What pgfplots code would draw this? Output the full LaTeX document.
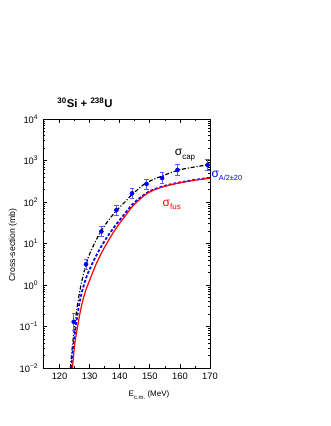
\documentclass[border=0pt]{standalone}
\usepackage{pgfplots}
\usepackage{pgfplotstable}
\pgfplotsset{compat=1.18}
\usepackage{fontspec}
\setmainfont{Liberation Sans}

% measured points with error bars
\pgfplotstableread{
E     sig   ep    em
124.7 0.13  0.076 0.048
128.8 3.16  1.0   0.76
133.9 19.5  6.2   4.7
138.9 64    20    15
144.1 162   57    42
148.9 272   87    66
154.1 378   132   98
159.2 590   206   153
169.2 780   272   202
}\expdata

% capture
\pgfplotstableread{
E sig
123.6 0.01
124.2 0.03
125 0.1
126 0.35
127 0.9
128 1.9
129 3.5
130 5.6
132 11.5
134 21
136 34
138 52
140 75
142 105
144 150
146 200
148 265
150 320
152 370
154 420
157 510
160 600
163 660
166 720
170 800
}\capdata

% A/2 +- 20
\pgfplotstableread{
E sig
123.9 0.01
124.5 0.03
125 0.06
126 0.2
127 0.5
128 0.95
129 1.6
130 2.4
132 4.8
134 8.8
136 15
138 24
140 37
142 56
144 84
146 115
148 148
150 183
153 222
156 257
160 297
165 342
170 385
}\adata

% fusion
\pgfplotstableread{
E sig
124.3 0.01
125 0.035
126 0.1
127 0.25
128 0.5
129 0.85
130 1.3
132 3
134 6
136 11
138 19
140 31
142 48
144 75
146 105
148 140
150 175
153 215
156 250
160 290
165 335
170 375
}\fusdata

\definecolor{ebar}{RGB}{90,90,255}

\begin{document}
\begin{tikzpicture}[font=\fontsize{6.5}{8}\selectfont]
\useasboundingbox (0,0) rectangle (247.5pt,319.5pt);
\begin{axis}[
  at={(32.25pt,43.5pt)}, anchor=south west,
  scale only axis, width=125.25pt, height=186.75pt,
  xmin=114.5, xmax=170,
  ymode=log, ymin=0.01, ymax=10000,
  xtick={120,130,...,170}, minor x tick num=1,
  ytick={0.01,0.1,1,10,100,1000,10000},
  yticklabels={10\textsuperscript{−2},10\textsuperscript{−1},10\textsuperscript{0},10\textsuperscript{1},10\textsuperscript{2},10\textsuperscript{3},10\textsuperscript{4}},
  minor ytick={0.02,0.03,0.04,0.05,0.06,0.07,0.08,0.09,0.2,0.3,0.4,0.5,0.6,0.7,0.8,0.9,2,3,4,5,6,7,8,9,20,30,40,50,60,70,80,90,200,300,400,500,600,700,800,900,2000,3000,4000,5000,6000,7000,8000,9000},
  /pgf/number format/assume math mode=true,
  ticklabel style={font=\fontsize{7}{8}\selectfont},
  major tick length=3pt, minor tick length=1.6pt,
  tick style={black, line width=0.5pt},
  axis line style={line width=0.6pt},
  clip mode=individual,
]
\addplot[black, line width=0.9pt, dash pattern=on 3pt off 1.4pt on 0.8pt off 1.4pt, smooth] table[x=E,y=sig] {\capdata};
\addplot[blue, line width=1.3pt, dash pattern=on 2.2pt off 1.4pt, smooth] table[x=E,y=sig] {\adata};
\addplot[red, line width=0.9pt, smooth] table[x=E,y=sig] {\fusdata};
\addplot[only marks, mark=*, mark size=1.5pt, color=blue,
  error bars/.cd, y dir=both, y explicit,
  error bar style={ebar, line width=0.5pt},
  error mark options={ebar, line width=0.5pt, mark size=1.6pt, rotate=90}]
  table[x=E, y=sig, y error plus=ep, y error minus=em] {\expdata};
\node[black] at (axis cs:161.7,1350) {{\fontsize{9}{10}\selectfont σ}\raisebox{-0.7ex}{\fontsize{6}{7}\selectfont cap}};
\node[red] at (axis cs:157.3,85) {{\fontsize{9}{10}\selectfont σ}\raisebox{-0.7ex}{\fontsize{6}{7}\selectfont fus}};
\node[blue, anchor=west, inner sep=0.5pt] at (axis cs:170.2,425) {{\fontsize{9}{10}\selectfont σ}\raisebox{-0.7ex}{\fontsize{5.5}{7}\selectfont A/2±20}};
\end{axis}
\node[font=\fontsize{8.5}{10}\selectfont\bfseries] at (63.75pt,242.25pt) {\textsuperscript{30}Si + \textsuperscript{238}U};
\node[font=\fontsize{6}{7}\selectfont] at (111.75pt,23.25pt) {E\raisebox{-0.6ex}{\fontsize{4.5}{5}\selectfont c.m.} (MeV)};
\node[rotate=90] at (9.75pt,135.75pt) {Cross-section (mb)};
\end{tikzpicture}
\end{document}
